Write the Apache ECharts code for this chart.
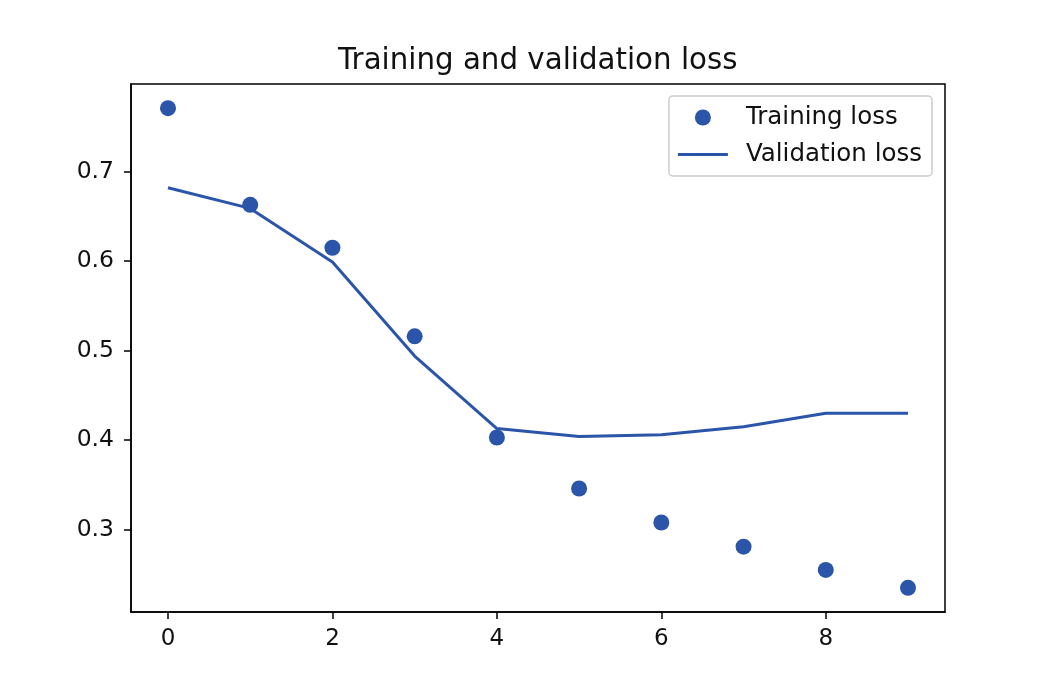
<!DOCTYPE html>
<html>
<head>
<meta charset="utf-8">
<script src="https://cdn.jsdelivr.net/npm/echarts@6/dist/echarts.min.js"></script>
<style>
  html, body { margin: 0; padding: 0; background: #fff; }
  #main { width: 1050px; height: 700px; }
</style>
</head>
<body>
<div id="main"></div>
<script>
// epochs 0..9
const epochs = [0, 1, 2, 3, 4, 5, 6, 7, 8, 9]
const trainingLoss = [0.771, 0.663, 0.615, 0.516, 0.403, 0.346, 0.308, 0.281, 0.255, 0.235]
const validationLoss = [0.682, 0.659, 0.599, 0.494, 0.413, 0.404, 0.406, 0.415, 0.430, 0.430]
const xTicks = [0, 2, 4, 6, 8]
const yTicks = [0.3, 0.4, 0.5, 0.6, 0.7]

const blue = '#2b55a9'
const font = 'DejaVu Sans'

let myChart = echarts.init(document.getElementById('main'))

myChart.setOption({
  animation: false,
  title: {
    text: 'Training and validation loss',
    left: 333,
    top: 42,
    textStyle: { fontFamily: font, fontSize: 29.3, fontWeight: 'normal', color: '#111' }
  },
  legend: {
    right: 118,
    top: 96,
    orient: 'vertical',
    itemGap: 12,
    itemWidth: 50,
    itemHeight: 16,
    padding: [9, 10, 9, 9],
    borderColor: '#ccc',
    borderWidth: 1.5,
    borderRadius: 4,
    textStyle: { fontFamily: font, fontSize: 24.5, color: '#111', padding: [0, 0, 0, 13] },
    data: [
      { name: 'Training loss', icon: 'circle', itemStyle: { color: blue } },
      // line-only legend key (invisible move-tos fix the box to 50x16)
      { name: 'Validation loss', icon: 'path://M0,0M50,16M0,6.5H50V9.5H0Z', itemStyle: { color: blue } }
    ]
  },
  grid: {
    left: 131, right: 105, top: 84, bottom: 88,
    show: true, borderColor: '#000', borderWidth: 1.5
  },
  xAxis: {
    type: 'value',
    min: -0.45,
    max: 9.45,
    splitLine: { show: false },
    axisLine: { onZero: false, lineStyle: { color: '#000', width: 1.5 } },
    axisTick: { show: true, customValues: xTicks, length: 7, lineStyle: { color: '#000', width: 1.5 } },
    axisLabel: { customValues: xTicks, fontFamily: font, fontSize: 23, color: '#111', margin: 16 }
  },
  yAxis: {
    type: 'value',
    min: 0.208,
    max: 0.798,
    splitLine: { show: false },
    axisLine: { show: true, onZero: false, lineStyle: { color: '#000', width: 1.5 } },
    axisTick: { show: true, customValues: yTicks, length: 7, lineStyle: { color: '#000', width: 1.5 } },
    axisLabel: {
      customValues: yTicks,
      fontFamily: font, fontSize: 23.5, color: '#111', margin: 17,
      formatter: v => v.toFixed(1)
    }
  },
  series: [
    {
      name: 'Training loss',
      type: 'scatter',
      symbol: 'circle',
      symbolSize: 16,
      itemStyle: { color: blue, opacity: 1 },
      data: epochs.map((e, i) => [e, trainingLoss[i]])
    },
    {
      name: 'Validation loss',
      type: 'line',
      symbol: 'none',
      lineStyle: { color: blue, width: 3 },
      itemStyle: { color: blue },
      data: epochs.map((e, i) => [e, validationLoss[i]])
    }
  ]
})
</script>
</body>
</html>
